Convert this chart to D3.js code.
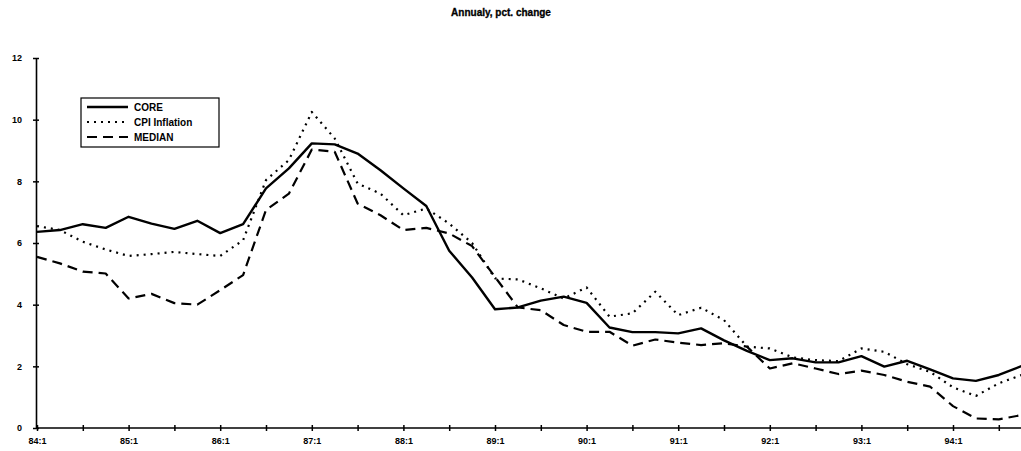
<!DOCTYPE html>
<html><head><meta charset="utf-8">
<script src="https://cdn.jsdelivr.net/npm/d3@7"></script>
<style>
html,body{margin:0;padding:0;background:#fff;}
svg text{font-family:"Liberation Sans Narrow","Liberation Sans",Arial,sans-serif;font-weight:bold;fill:#000;}
</style></head>
<body><svg id="c" width="1021" height="451"></svg>
<script>
const years = [84,85,86,87,88,89,90,91,92,93,94];
const quarters = years.flatMap(y => [1,2,3,4].map(q => y + ":" + q));
const tickLabels = ["84:1","85:1","86:1","87:1","88:1","89:1","90:1","91:1","92:1","93:1","94:1"];
const yTicks = [0,2,4,6,8,10,12];
const core = [6.36,6.42,6.61,6.49,6.85,6.63,6.46,6.72,6.32,6.61,7.77,8.42,9.23,9.2,8.9,8.36,7.77,7.2,5.75,4.88,3.85,3.91,4.13,4.26,4.06,3.26,3.11,3.11,3.07,3.23,2.84,2.5,2.2,2.26,2.13,2.13,2.33,1.99,2.18,1.9,1.61,1.53,1.72,2.01];
const cpi = [6.55,6.42,6.04,5.79,5.58,5.64,5.71,5.64,5.58,6.09,8.04,8.69,10.25,9.39,7.93,7.6,6.9,7.12,6.63,6.0,4.85,4.82,4.53,4.2,4.56,3.61,3.72,4.42,3.66,3.9,3.5,2.64,2.58,2.29,2.2,2.17,2.58,2.47,2.07,1.82,1.32,1.04,1.45,1.72];
const median = [5.55,5.34,5.07,5.01,4.2,4.35,4.05,4.0,4.47,4.96,7.07,7.6,9.03,8.96,7.28,6.9,6.42,6.49,6.31,5.9,4.9,3.91,3.82,3.34,3.12,3.12,2.67,2.87,2.77,2.69,2.75,2.64,1.93,2.1,1.93,1.75,1.86,1.72,1.5,1.34,0.71,0.31,0.28,0.42];
const seriesNames = ["CORE","CPI Inflation","MEDIAN"];

const svg = d3.select("#c");
const x = d3.scalePoint().domain(quarters).range([37, 37 + 22.9*43]);
const y = d3.scaleLinear().domain([0,12]).range([428, 58]);

// title
svg.append("text").attr("x", 501).attr("y", 16).attr("text-anchor","middle")
  .attr("font-size", 10).style("font-weight", 900).attr("stroke","#000").attr("stroke-width",0.3)
  .text("Annualy, pct. change");

// y axis
const yAxis = svg.append("g").attr("transform","translate(36,0)")
  .call(d3.axisLeft(y).tickValues(yTicks).tickSize(0).tickPadding(14).tickFormat(d3.format("d")));
yAxis.select(".domain").attr("stroke","#000").attr("stroke-width",1.6);
yAxis.selectAll("text").attr("font-size",9).style("font-family",null);
yAxis.selectAll(".tick").append("line").attr("x1",-3).attr("x2",3).attr("stroke","#000").attr("stroke-width",1.5);

// x axis
const xAxis = svg.append("g").attr("transform","translate(0,428)")
  .call(d3.axisBottom(x).tickValues(quarters.filter((d,i)=>i%2===0)).tickSize(0).tickPadding(10)
    .tickFormat(d => tickLabels.includes(d) ? d : ""));
xAxis.select(".domain").attr("stroke","#000").attr("stroke-width",1.6).attr("d","M36,0H1021");
xAxis.selectAll("text").attr("font-size",9).style("font-family",null);
xAxis.selectAll(".tick").append("line").attr("y1",-3).attr("y2",3).attr("stroke","#000").attr("stroke-width",1.5);

const line = d3.line().x((d,i)=>x(quarters[i])).y(d=>y(d));
const styles = [
  {data: core, w: 2.4, dash: null},
  {data: cpi, w: 2.2, dash: "2,5"},
  {data: median, w: 2.2, dash: "10,6"}
];
styles.forEach(s => {
  svg.append("path").datum(s.data).attr("d", line).attr("fill","none")
    .attr("stroke","#000").attr("stroke-width", s.w)
    .attr("stroke-dasharray", s.dash).attr("stroke-linejoin","round");
});

// legend
const lg = svg.append("g");
lg.append("rect").attr("x",81).attr("y",98).attr("width",138).attr("height",49)
  .attr("fill","#fff").attr("stroke","#000").attr("stroke-width",1.2);
seriesNames.forEach((n,i) => {
  const yy = 107 + i*15;
  lg.append("line").attr("x1",87).attr("x2",128).attr("y1",yy).attr("y2",yy)
    .attr("stroke","#000").attr("stroke-width", styles[i].w).attr("stroke-dasharray", styles[i].dash);
  lg.append("text").attr("x",134).attr("y",yy+3.5).attr("font-size",10).text(n);
});
</script></body></html>
